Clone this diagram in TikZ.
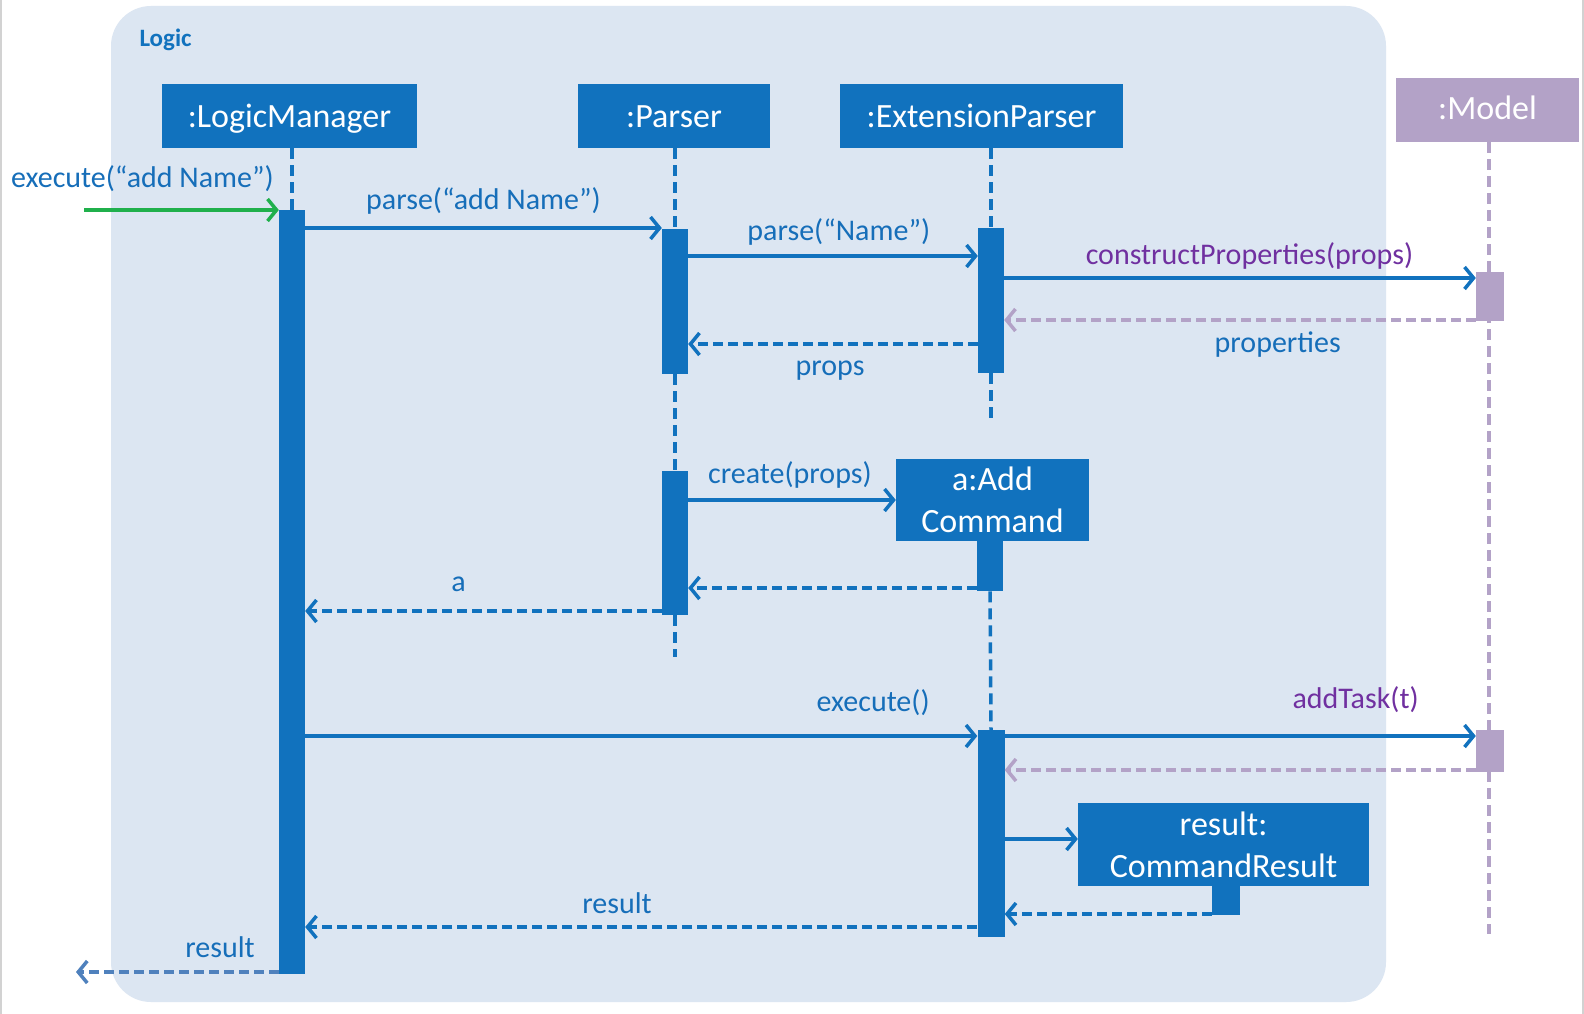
\documentclass[tikz,border=0pt]{standalone}
\usepackage{fontspec}
\setmainfont{Carlito}
\usetikzlibrary{arrows.meta}
\definecolor{umlblue}{RGB}{17,114,190}
\definecolor{txtblue}{RGB}{22,110,185}
\definecolor{framebg}{RGB}{220,230,242}
\definecolor{modelpurple}{RGB}{179,162,199}
\definecolor{callpurple}{RGB}{112,48,160}
\definecolor{callgreen}{RGB}{32,176,76}
\definecolor{retblue}{RGB}{79,129,189}
\definecolor{edgegray}{RGB}{210,210,210}
\begin{document}
\begin{tikzpicture}[x=1pt,y=-1pt,
  head/.style={fill=umlblue,text=white,inner sep=0pt,text height=44pt,text depth=20pt,font=\fontsize{34}{38}\selectfont},
  box/.style={fill=umlblue,text=white,inner sep=0pt,align=center,font=\fontsize{34}{42}\selectfont},
  bar/.style={fill=umlblue,inner sep=0pt,minimum width=26pt},
  life/.style={umlblue,line width=3.5pt,dash pattern=on 11pt off 6pt},
  msg/.style={umlblue,line width=3.5pt,-{Straight Barb[length=9pt,width=22pt,line width=3.5pt]}},
  ret/.style={msg,line width=4pt,dash pattern=on 10pt off 5pt},
  lbl/.style={text=txtblue,anchor=base,font=\fontsize{30}{34}\selectfont}]
  \useasboundingbox (0,0) rectangle (1584,1014);
  \fill[white] (0,0) rectangle (1584,1014);
  \draw[edgegray,line width=2pt] (1,0) -- (1,1014);
  \draw[edgegray,line width=2pt] (1583,0) -- (1583,1014);
  % frame
  \fill[framebg,rounded corners=40pt] (111,6) rectangle (1386,1002);
  \node[anchor=base west,text=umlblue,font=\fontsize{25}{30}\selectfont\bfseries] (title) at (136,47) {Logic};
  % heads
  \node[head,minimum width=255pt] (lmhead) at (289.5,116) {:LogicManager};
  \node[head,minimum width=192pt] (pahead) at (674,116) {:Parser};
  \node[head,minimum width=283pt] (ephead) at (981.5,116) {:ExtensionParser};
  \node[head,fill=modelpurple,text height=42pt,text depth=22pt,minimum width=183pt] (mdhead) at (1487.5,110) {:Model};
  % lifelines
  \coordinate (paend) at (675,657);
  \coordinate (epend) at (991,423);
  \coordinate (mdend) at (1489,934);
  \draw[life,modelpurple] (mdend |- mdhead.south) -- (mdend);
  \node[bar,minimum height=764pt,anchor=north] (lmbar) at (292,210) {};
  \node[bar,minimum height=145pt,anchor=north] (pabar1) at (675,229) {};
  \node[bar,minimum height=144pt,anchor=north] (pabar2) at (675,471) {};
  \node[bar,minimum height=145pt,anchor=north] (epbar) at (991,228) {};
  \node[bar,fill=modelpurple,minimum width=28pt,minimum height=49pt,anchor=north] (mdbar1) at (1490,272) {};
  \node[bar,fill=modelpurple,minimum width=28pt,minimum height=42pt,anchor=north] (mdbar2) at (1490,730) {};
  \node[box,minimum width=193pt,minimum height=82pt] (acbox) at (992.5,500) {a:Add\\Command};
  \node[bar,minimum height=50pt,anchor=north] (acbar1) at (990,541) {};
  \node[bar,minimum width=27pt,minimum height=207pt,anchor=north] (acbar2) at (991,730) {};
  \node[box,minimum width=291pt,minimum height=83pt] (crbox) at (1223.5,844.5) {result:\\CommandResult};
  \node[bar,minimum width=28pt,minimum height=29pt,anchor=north] (crbar) at (1226,886) {};
  \draw[life] (lmbar.north |- lmhead.south) -- (lmbar.north);
  \draw[life] (pabar1.north |- pahead.south) -- (pabar1.north);
  \draw[life] (pabar1.south) -- (pabar2.north);
  \draw[life] (pabar2.south) -- (paend);
  \draw[life] (epbar.north |- ephead.south) -- (epbar.north);
  \draw[life] (epbar.south) -- (epend);
  \draw[life] (acbar1.south) -- (acbar2.north);
  % messages
  \coordinate (caller) at (84,210);
  \coordinate (sink) at (76,972);
  \draw[msg,callgreen] (caller) -- (lmbar.west |- 0,210) node[lbl,pos=.3,yshift=23pt] (m1) {execute(“add Name”)};
  \draw[msg] (lmbar.east |- 0,228) -- (pabar1.west |- 0,228) node[lbl,pos=.5,yshift=19pt] (m2) {parse(“add Name”)};
  \draw[msg] (pabar1.east |- 0,256) -- (epbar.west |- 0,256) node[lbl,pos=.52,yshift=16pt] (m3) {parse(“Name”)};
  \draw[msg] (epbar.east |- 0,278) -- (mdbar1.west |- 0,278) node[lbl,text=callpurple,pos=.52,yshift=14pt] (m4) {constructProperties(props)};
  \draw[ret,modelpurple] (mdbar1.west |- 0,320) -- (epbar.east |- 0,320) node[lbl,pos=.42,yshift=-32pt] (m5) {properties};
  \draw[ret] (epbar.west |- 0,344) -- (pabar1.east |- 0,344) node[lbl,pos=.51,yshift=-31pt] (m6) {props};
  \draw[msg] (pabar2.east |- 0,500) -- (acbox.west |- 0,500) node[lbl,pos=.49,yshift=17pt] (m7) {create(props)};
  \draw[ret] (acbar1.west |- 0,588) -- (pabar2.east |- 0,588);
  \draw[ret] (pabar2.west |- 0,611) -- (lmbar.east |- 0,611) node[lbl,pos=.57,yshift=20pt] (m9) {a};
  \draw[msg] (lmbar.east |- 0,736) -- (acbar2.west |- 0,736) node[lbl,pos=.845,yshift=25pt] (m10) {execute()};
  \draw[msg] (acbar2.east |- 0,736) -- (mdbar2.west |- 0,736) node[lbl,text=callpurple,pos=.745,yshift=28pt] (m11) {addTask(t)};
  \draw[ret,modelpurple] (mdbar2.west |- 0,770) -- (acbar2.east |- 0,770);
  \draw[msg] (acbar2.east |- 0,839) -- (crbox.west |- 0,839);
  \draw[ret] (crbar.west |- 0,914) -- (acbar2.east |- 0,914);
  \draw[ret] (acbar2.west |- 0,927) -- (lmbar.east |- 0,927) node[lbl,pos=.536,yshift=14pt] (m15) {result};
  \draw[ret,retblue] (lmbar.west |- 0,972) -- (sink) node[lbl,pos=.29,yshift=15pt] (m16) {result};
\end{tikzpicture}
\end{document}
